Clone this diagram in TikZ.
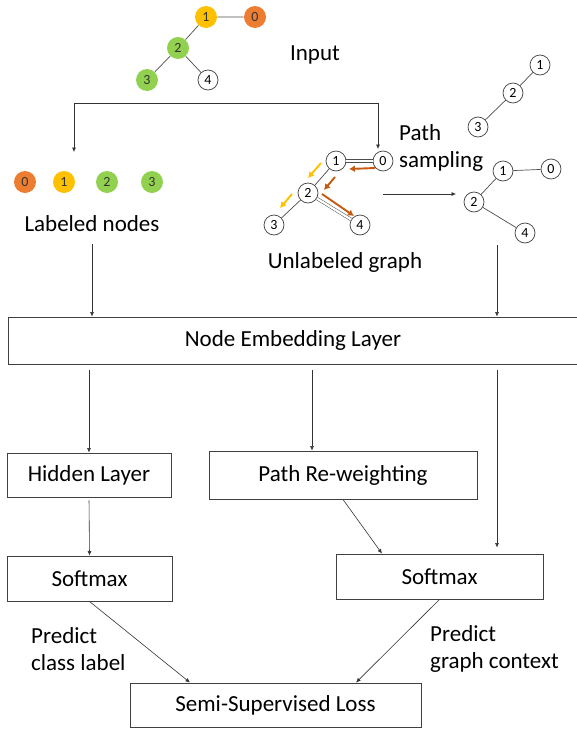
\documentclass[tikz,border=0pt]{standalone}
\usepackage{fontspec}
\setmainfont{Carlito}
\usetikzlibrary{arrows.meta}

\definecolor{lorange}{HTML}{ED7D31}
\definecolor{lyellow}{HTML}{FFC000}
\definecolor{lgreen}{HTML}{92D050}
\definecolor{lbrown}{HTML}{C55A11}

\begin{document}
\begin{tikzpicture}[x=1pt, y=-1pt,
    gnode/.style={draw=black!75, line width=0.7pt, circle, inner sep=0pt, minimum size=20pt, fill=white, font=\fontsize{14}{14}\selectfont},
    cnode/.style={gnode, draw=none, text=black!80, minimum size=22pt},
    layer/.style={draw=black!75, line width=0.9pt, inner sep=0pt, font=\fontsize{23}{27}\selectfont},
    txt/.style={inner sep=0pt, font=\fontsize{23}{27}\selectfont},
    arr/.style={-{Latex[length=4.5pt,width=4pt]}, black!80, line width=0.6pt},
    edge/.style={black!70, line width=0.7pt},
    dedge/.style={black!70, line width=0.5pt, double=white, double distance=2.2pt},
    walk/.style={-{Latex[length=6pt,width=7pt]}, line width=1.9pt},
  ]
  \useasboundingbox (0,0) rectangle (577,731);
  \clip (0,0) rectangle (577,731);

  % input graph
  \node[cnode, fill=lyellow] (in1) at (206,17) {1};
  \node[cnode, fill=lorange] (in0) at (255,17) {0};
  \node[cnode, fill=lgreen] (in2) at (178,48) {2};
  \node[cnode, fill=lgreen] (in3) at (147,80) {3};
  \node[gnode] (in4) at (208,80) {4};
  \draw[edge] (in1) -- (in0) (in1) -- (in2) (in2) -- (in3) (in2) -- (in4);
  \node[txt] (input) at (315,55) {Input};

  % split
  \coordinate (forkL) at (74,103);
  \coordinate (forkR) at (378,103);
  \coordinate (toLab) at (74,152);
  \coordinate (toGraph) at (378,149);
  \draw[arr] (forkL) -- (toLab);
  \draw[arr] (forkL) -- (forkR) -- (toGraph);

  % labeled nodes
  \node[cnode, fill=lorange] (lab0) at (25,182) {0};
  \node[cnode, fill=lyellow] (lab1) at (64,182) {1};
  \node[cnode, fill=lgreen] (lab2) at (107,182) {2};
  \node[cnode, fill=lgreen] (lab3) at (152,182) {3};
  \node[txt] (labtxt) at (92,224) {Labeled nodes};

  % unlabeled graph
  \node[gnode] (u1) at (336,161) {1};
  \node[gnode] (u0) at (383,161) {0};
  \node[gnode] (u2) at (308,193) {2};
  \node[gnode] (u3) at (274,225) {3};
  \node[gnode] (u4) at (360,225) {4};
  \draw[dedge] (u1) -- (u0);
  \draw[dedge] (u2) -- (u4);
  \draw[edge] (u1) -- (u2) (u2) -- (u3);
  \draw[walk, lbrown] ([shift={(-8,7)}]u0.center) -- ([shift={(13,8)}]u1.center);
  \draw[walk, lbrown] ([shift={(-1,16)}]u1.center) -- ([shift={(16,-3)}]u2.center);
  \draw[walk, lbrown] ([shift={(14,1)}]u2.center) -- ([shift={(-6,-9)}]u4.center);
  \draw[walk, lyellow] ([shift={(-15,2)}]u1.center) -- ([shift={(0,-15)}]u2.center);
  \draw[walk, lyellow] ([shift={(-16,1)}]u2.center) -- ([shift={(6,-17)}]u3.center);
  \node[txt] (unlab) at (345,262) {Unlabeled graph};
  \node[txt, align=left, anchor=west] (ps) at (399,148) {Path\\sampling};

  % sampled paths
  \coordinate (psA) at (383,194);
  \coordinate (psB) at (456,194);
  \draw[arr] (psA) -- (psB);
  \node[gnode] (pa1) at (540,65) {1};
  \node[gnode] (pa2) at (513,93) {2};
  \node[gnode] (pa3) at (478,127) {3};
  \draw[edge] (pa1) -- (pa2) (pa2) -- (pa3);
  \node[gnode] (pb1) at (503,171) {1};
  \node[gnode] (pb0) at (551,169) {0};
  \node[gnode] (pb2) at (474,202) {2};
  \node[gnode] (pb4) at (525,233) {4};
  \draw[edge] (pb1) -- (pb0) (pb1) -- (pb2) (pb2) -- (pb4);

  % layers
  \node[layer, minimum width=570pt, minimum height=47pt] (emb) at (293,340.5) {Node Embedding Layer};
  \node[layer, minimum width=164pt, minimum height=44pt] (hid) at (89,475) {Hidden Layer};
  \node[layer, minimum width=268pt, minimum height=48pt] (prw) at (343,475) {Path Re-weighting};
  \node[layer, minimum width=165pt, minimum height=45pt] (smL) at (89.5,578.5) {Softmax};
  \node[layer, minimum width=207pt, minimum height=45pt] (smR) at (439.5,576.5) {Softmax};
  \node[layer, minimum width=291pt, minimum height=44pt] (loss) at (275.5,705) {Semi-Supervised Loss};

  \coordinate (ctxout) at (497,245);
  \coordinate (prwin) at ([xshift=-31pt]prw.north);
  \coordinate (smRin) at ([xshift=57.5pt]smR.north);
  \draw[arr, shorten <=12pt] (labtxt.south) -- (labtxt.south |- emb.north);
  \draw[arr] (ctxout) -- (ctxout |- emb.north);
  \draw[arr, shorten <=6pt] (hid.north |- emb.south) -- (hid.north);
  \draw[arr, shorten <=6pt] (prwin |- emb.south) -- (prwin);
  \draw[arr, shorten <=6pt, shorten >=6pt] (smRin |- emb.south) -- (smRin);
  \draw[arr, shorten <=3pt] (hid.south) -- (smL.north);
  \draw[arr] (prw.south) -- ([xshift=-57.5pt]smR.north);
  \draw[arr] (smL.south) -- ([xshift=-85.5pt]loss.north);
  \draw[arr] (smR.south) -- ([xshift=80.5pt]loss.north);

  \node[txt, align=left, anchor=west] (predL) at (31,649) {Predict\\class label};
  \node[txt, align=left, anchor=west] (predR) at (430,649) {Predict\\graph context};
\end{tikzpicture}
\end{document}
